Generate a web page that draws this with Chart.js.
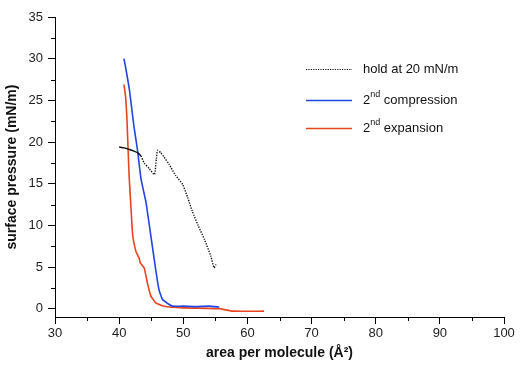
<!DOCTYPE html>
<html>
<head>
<meta charset="utf-8">
<script src="https://cdn.jsdelivr.net/npm/chart.js@4.4.0/dist/chart.umd.min.js"></script>
<style>
  html, body { margin: 0; padding: 0; background: #fff; }
</style>
</head>
<body>
<canvas id="chart1" width="521" height="372"></canvas>
<script>
// isotherm data (area in A^2, pressure in mN/m)
const holdArea     = [40.0, 40.8, 41.6, 42.3, 42.9, 43.4, 43.9, 44.7, 45.5, 45.8, 46.0, 46.5, 47.0, 47.8, 48.8, 49.9, 50.7, 51.4, 52.3, 53.3, 54.3, 54.8, 55.1];
const holdPressure = [19.4, 19.3, 19.1, 18.9, 18.7, 18.3, 17.5, 16.8, 16.1, 18.0, 19.0, 18.7, 18.2, 17.3, 16.0, 14.9, 13.3, 11.7, 10.0, 8.3, 6.3, 4.9, 5.3];

const compArea     = [40.75, 41.0, 41.6, 42.3, 42.85, 43.4, 44.2, 44.95, 45.7, 46.2, 46.75, 47.8, 48.3, 50.0, 52.0, 54.0, 55.6];
const compPressure = [30.0, 29.0, 26.3, 21.9, 19.1, 15.6, 12.7, 8.7, 4.7, 2.3, 1.1, 0.5, 0.3, 0.3, 0.25, 0.3, 0.2];

const expArea      = [40.75, 41.0, 41.2, 41.55, 41.8, 42.1, 42.6, 42.9, 43.1, 43.3, 43.9, 44.4, 44.95, 45.7, 47.0, 50.0, 55.6, 57.7, 62.6];
const expPressure  = [26.9, 25.5, 23.1, 16.0, 12.7, 8.9, 6.9, 6.4, 6.1, 5.5, 4.9, 3.1, 1.5, 0.7, 0.3, 0.1, 0.0, -0.3, -0.3];

const seriesLabels = ['hold at 20 mN/m', '2nd compression', '2nd expansion'];
const xTicks = [30, 40, 50, 60, 70, 80, 90, 100];
const yTicks = [0, 5, 10, 15, 20, 25, 30, 35];
const xMinor = [35, 45, 55, 65, 75, 85, 95];
const yMinor = [2.5, 7.5, 12.5, 17.5, 22.5, 27.5, 32.5];

function pairs(xs, ys) {
    return xs.map(function (v, i) { return {x: v, y: ys[i]}; });
}

const fontFam = '"Liberation Sans", Arial, Helvetica, sans-serif';

// short minor ticks between the labelled ones
const minorTicks = {
    id: 'minorTicks',
    afterDraw(chart) {
        const ctx = chart.ctx, sx = chart.scales.x, sy = chart.scales.y;
        ctx.save();
        ctx.strokeStyle = '#000';
        ctx.lineWidth = 1;
        ctx.beginPath();
        xMinor.forEach(function (v) {
            const px = Math.round(sx.getPixelForValue(v)) + 0.5;
            ctx.moveTo(px, sx.top);
            ctx.lineTo(px, sx.top + 4);
        });
        yMinor.forEach(function (v) {
            const py = Math.round(sy.getPixelForValue(v)) + 0.5;
            ctx.moveTo(sy.right - 4, py);
            ctx.lineTo(sy.right, py);
        });
        ctx.stroke();
        ctx.restore();
    }
};

// legend inside the plot, with superscript ordinals
const insideLegend = {
    id: 'insideLegend',
    afterDraw(chart) {
        const ctx = chart.ctx;
        const x0 = 306, x1 = 352, tx = 363;
        const rows = [69, 100, 128];
        ctx.save();
        chart.data.datasets.forEach(function (ds, i) {
            const y = rows[i] + 0.5;
            ctx.strokeStyle = ds.borderColor;
            ctx.lineWidth = i === 0 ? 1.2 : 1.6;
            ctx.setLineDash(i === 0 ? [1.2, 1.2] : []);
            ctx.beginPath();
            ctx.moveTo(x0, y);
            ctx.lineTo(x1, y);
            ctx.stroke();
            ctx.setLineDash([]);

            ctx.fillStyle = '#111';
            ctx.textBaseline = 'middle';
            let x = tx;
            const m = ds.label.match(/^(\d+)(st|nd|rd|th)(.*)$/);
            if (m) {
                ctx.font = '13px ' + fontFam;
                ctx.fillText(m[1], x, rows[i]);
                x += ctx.measureText(m[1]).width;
                ctx.font = '9px ' + fontFam;
                ctx.fillText(m[2], x, rows[i] - 5);
                x += ctx.measureText(m[2]).width;
                ctx.font = '13px ' + fontFam;
                ctx.fillText(m[3], x, rows[i]);
            } else {
                ctx.font = '13px ' + fontFam;
                ctx.fillText(ds.label, x, rows[i]);
            }
        });
        ctx.restore();
    }
};

window.onload = function () {

    let chart1 = document.getElementById('chart1').getContext('2d');

    let lineChart = new Chart(chart1, {
        type: 'line',
        data: {
            datasets: [{
                label: seriesLabels[0],
                data: pairs(holdArea, holdPressure),
                borderColor: '#111111',
                borderWidth: 1.4,
                pointRadius: 0,
                tension: 0.2,
                segment: {
                    borderDash: function (c) { return c.p0.parsed.x < 43 ? [] : [1.3, 1.3]; }
                }
            },
            {
                label: seriesLabels[1],
                data: pairs(compArea, compPressure),
                borderColor: '#2244e0',
                borderWidth: 1.6,
                pointRadius: 0,
                tension: 0.1
            },
            {
                label: seriesLabels[2],
                data: pairs(expArea, expPressure),
                borderColor: '#e8441e',
                borderWidth: 1.6,
                pointRadius: 0,
                tension: 0.1
            }]
        },
        options: {
            responsive: false,
            animation: false,
            layout: { padding: { top: 17, right: 17, left: 0, bottom: 0 } },
            plugins: {
                legend: { display: false },
                tooltip: { enabled: false }
            },
            scales: {
                x: {
                    type: 'linear',
                    min: 30,
                    max: 100,
                    afterBuildTicks: function (s) { s.ticks = xTicks.map(function (v) { return {value: v}; }); },
                    afterFit: function (s) { s.height = 55; },
                    ticks: { color: '#222', padding: 2, maxRotation: 0, font: { family: fontFam, size: 13 } },
                    grid: { drawOnChartArea: false, drawTicks: true, tickLength: 7, color: '#000' },
                    border: { display: true, color: '#000', width: 1 },
                    title: {
                        display: true,
                        text: 'area per molecule (Å²)',
                        color: '#111',
                        padding: { top: 0, bottom: 10 },
                        font: { family: fontFam, size: 14, weight: 'bold' }
                    }
                },
                y: {
                    type: 'linear',
                    min: -1,
                    max: 35,
                    afterBuildTicks: function (s) { s.ticks = yTicks.map(function (v) { return {value: v}; }); },
                    afterFit: function (s) { s.width = 55; },
                    ticks: { color: '#222', padding: 5, font: { family: fontFam, size: 13 } },
                    grid: { drawOnChartArea: false, drawTicks: true, tickLength: 7, color: '#000' },
                    border: { display: true, color: '#000', width: 1 },
                    title: {
                        display: true,
                        text: 'surface pressure (mN/m)',
                        color: '#111',
                        padding: { top: 4, bottom: 0 },
                        font: { family: fontFam, size: 14, weight: 'bold' }
                    }
                }
            }
        },
        plugins: [minorTicks, insideLegend]
    });
}
</script>
</body>
</html>
